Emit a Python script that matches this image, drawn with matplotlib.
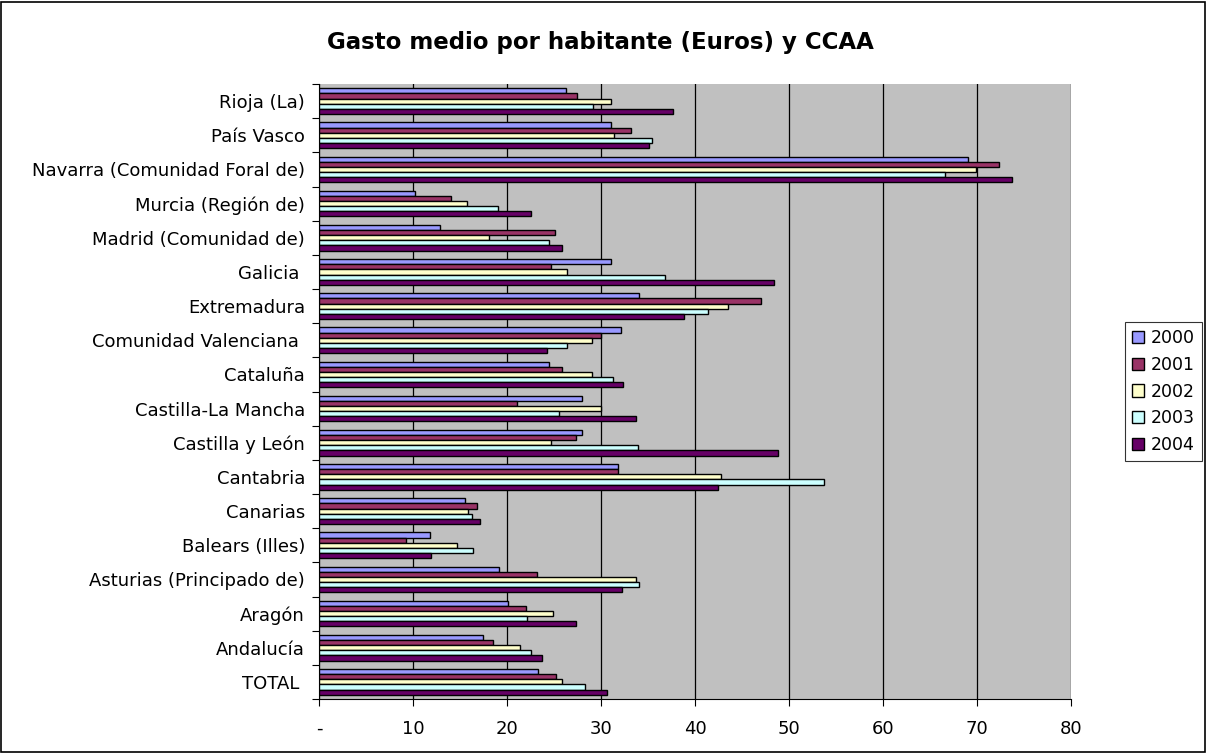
import numpy as np
import matplotlib.pyplot as plt
from matplotlib.patches import Rectangle
from matplotlib.ticker import FixedLocator, NullFormatter

plt.rcParams['font.family'] = ['DejaVu Sans']

## data, bottom to top as drawn
regions = ['TOTAL ', 'Andalucía', 'Aragón', 'Asturias (Principado de)', 'Balears (Illes)',
           'Canarias', 'Cantabria', 'Castilla y León', 'Castilla-La Mancha', 'Cataluña',
           'Comunidad Valenciana ', 'Extremadura', 'Galicia ', 'Madrid (Comunidad de)',
           'Murcia (Región de)', 'Navarra (Comunidad Foral de)', 'País Vasco', 'Rioja (La)']
years = ['2000', '2001', '2002', '2003', '2004']

v2000 = [23.3, 17.5, 20.1, 19.2, 11.8, 15.5, 31.8, 28.0, 28.0, 24.5, 32.1, 34.0, 31.1, 12.9, 10.2, 69.0, 31.1, 26.3]
v2001 = [25.2, 18.5, 22.0, 23.2, 9.3, 16.8, 31.8, 27.3, 21.1, 25.9, 30.0, 47.0, 24.7, 25.1, 14.0, 72.3, 33.2, 27.5]
v2002 = [25.9, 21.4, 24.9, 33.7, 14.7, 15.9, 42.8, 24.7, 30.0, 29.0, 29.0, 43.5, 26.4, 18.1, 15.7, 69.9, 31.4, 31.1]
v2003 = [28.3, 22.6, 22.1, 34.0, 16.4, 16.3, 53.7, 33.9, 25.5, 31.3, 26.4, 41.4, 36.8, 24.5, 19.0, 66.6, 35.4, 29.2]
v2004 = [30.6, 23.7, 27.3, 32.2, 11.9, 17.1, 42.5, 48.8, 33.7, 32.3, 24.3, 38.8, 48.4, 25.9, 22.6, 73.7, 35.1, 37.7]

series = [v2000, v2001, v2002, v2003, v2004]
colors = ['#9999FF', '#993366', '#FFFFCC', '#CCFFFF', '#660066']

xticks = [0, 10, 20, 30, 40, 50, 60, 70, 80]
xlabels = ['-', '10', '20', '30', '40', '50', '60', '70', '80']

fig = plt.figure(figsize=(12.06, 7.53), dpi=100)
ax = fig.add_axes([0.2645, 0.0717, 0.6235, 0.8167])
ax.set_facecolor('#C0C0C0')

## bars: 2000 on top of each group
y = np.arange(len(regions))
barH = 0.15
for j, vals in enumerate(series):
	ax.barh(y + 0.3 - j * barH, vals, height=barH, color=colors[j],
		edgecolor='black', linewidth=1.0, label=years[j], zorder=3)

ax.set_xlim(0, 80)
ax.set_ylim(-0.5, len(regions) - 0.5)
ax.set_xticks(xticks)
ax.set_xticklabels(xlabels, fontsize=13)
ax.xaxis.grid(True, color='black', linewidth=0.9, zorder=1)
ax.tick_params(axis='x', direction='out', length=5, width=0.8, pad=10)

## category labels centred, ticks on the boundaries
ax.yaxis.set_major_locator(FixedLocator(np.arange(-0.5, len(regions), 1)))
ax.yaxis.set_major_formatter(NullFormatter())
ax.yaxis.set_minor_locator(FixedLocator(y))
ax.set_yticklabels(regions, minor=True, fontsize=13)
ax.tick_params(axis='y', which='major', direction='out', length=5, width=0.8)
ax.tick_params(axis='y', which='minor', length=0, pad=10)

for side in ['top', 'right']:
	ax.spines[side].set_visible(False)
for side in ['left', 'bottom']:
	ax.spines[side].set_color('black')
	ax.spines[side].set_linewidth(0.8)

fig.text(0.498, 0.944, 'Gasto medio por habitante (Euros) y CCAA',
	ha='center', va='center', fontsize=16.5, fontweight='bold')

leg = ax.legend(loc='center left', bbox_to_anchor=(1.072, 0.5), fontsize=12.5,
	frameon=True, fancybox=False, edgecolor='black', handlelength=0.7,
	handleheight=0.7, handletextpad=0.4, labelspacing=0.5, borderpad=0.4,
	borderaxespad=0)
leg.get_frame().set_linewidth(0.8)

## outer border
fig.patches.append(Rectangle((0.001, 0.001), 0.998, 0.997, transform=fig.transFigure,
	fill=False, edgecolor='black', linewidth=1.2))

fig.savefig('out.png', dpi=100)
